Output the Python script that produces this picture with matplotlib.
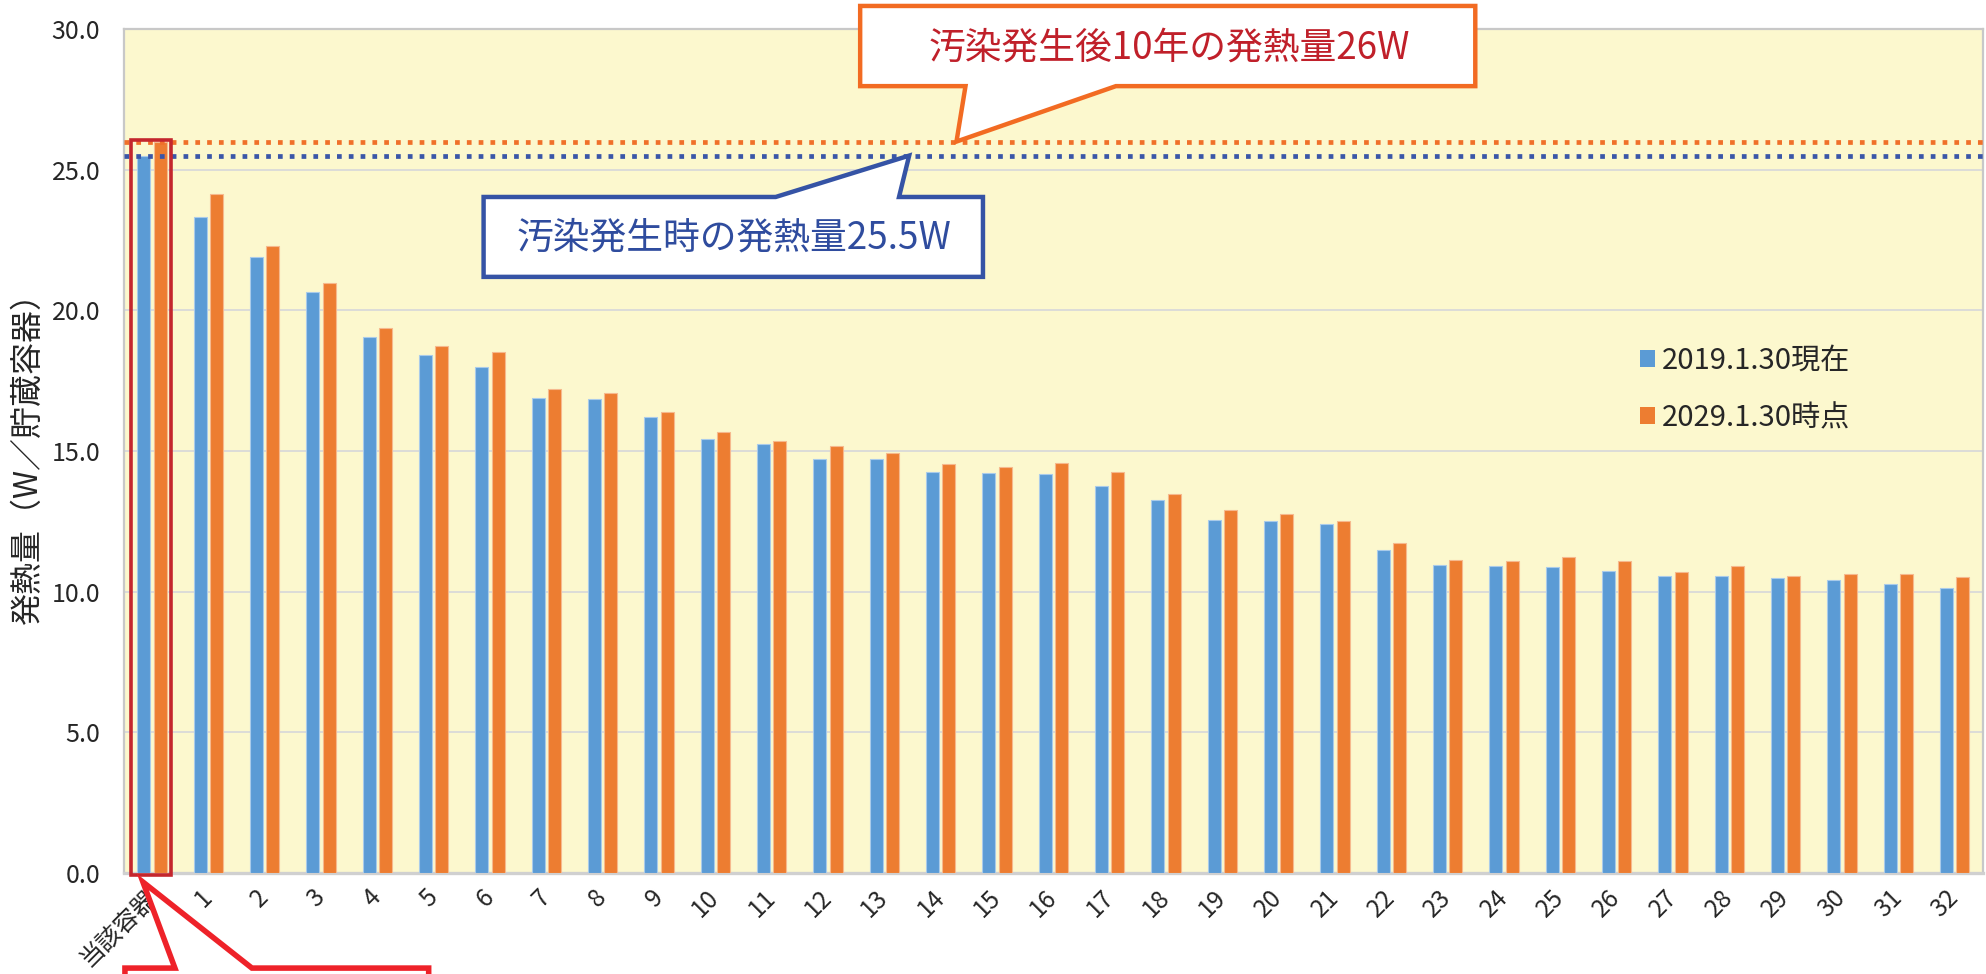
import matplotlib
matplotlib.use('Agg')
import matplotlib.pyplot as plt
from matplotlib.patches import Polygon, Rectangle, Patch
import numpy as np

plt.rcParams['font.family'] = ['Noto Sans CJK JP', 'DejaVu Sans']

# 貯蔵容器ごとの発熱量 (W/貯蔵容器)
containers = ['当該容器'] + [str(n) for n in range(1, 33)]
heat_2019 = [25.5, 23.33, 21.90, 20.67, 19.05, 18.41, 18.00, 16.87, 16.85, 16.21,
             15.44, 15.24, 14.73, 14.71, 14.24, 14.21, 14.18, 13.77, 13.25, 12.55,
             12.52, 12.41, 11.47, 10.95, 10.90, 10.88, 10.72, 10.56, 10.56, 10.47,
             10.40, 10.27, 10.13]
heat_2029 = [26.0, 24.14, 22.27, 20.96, 19.36, 18.73, 18.53, 17.19, 17.07, 16.39,
             15.69, 15.37, 15.17, 14.94, 14.53, 14.43, 14.56, 14.25, 13.46, 12.89,
             12.75, 12.50, 11.72, 11.13, 11.08, 11.25, 11.08, 10.69, 10.90, 10.56,
             10.63, 10.62, 10.51]
series_names = ['2019.1.30現在', '2029.1.30時点']
y_ticks = [0, 5, 10, 15, 20, 25, 30]

# 汚染発生時 / 汚染発生後10年 の発熱量
heat_at_event = 25.5
heat_after_10y = 26.0

BLUE = '#5B9BD5'
ORANGE = '#ED7D31'
TXT = '#262626'

fig = plt.figure(figsize=(19.86, 9.74), dpi=100)
ax = fig.add_axes([0.0624, 0.1037, 0.936, 0.8665])
ax.set_facecolor('#FCF8CE')

x = np.arange(len(containers))
w = 0.23
ax.bar(x - 0.145, heat_2019, w, color=BLUE, edgecolor='#A9CBEA', linewidth=0.8, zorder=3)
ax.bar(x + 0.145, heat_2029, w, color=ORANGE, edgecolor='#F6B98E', linewidth=0.8, zorder=3)

ax.set_xlim(-0.5, len(containers) - 0.5)
ax.set_ylim(0, 30)
ax.set_yticks(y_ticks)
ax.set_yticklabels([f'{v:.1f}' for v in y_ticks], fontsize=18, color=TXT)
ax.set_xticks(x)
ax.set_xticklabels(containers, fontsize=17.5, color=TXT, rotation=45,
                   ha='right', va='center', rotation_mode='anchor')
ax.tick_params(axis='both', length=0)
ax.tick_params(axis='y', pad=17)
ax.tick_params(axis='x', pad=15)
ax.grid(axis='y', color='#D9D9D9', linewidth=1.3, zorder=0)
ax.set_axisbelow(True)
for side, sp in ax.spines.items():
    sp.set_color('#C8C8C8')
    sp.set_linewidth(1.6)
ax.spines['bottom'].set_color('#D0D0D0')
ax.spines['bottom'].set_linewidth(2.4)

ax.set_ylabel('発熱量（W／貯蔵容器）', fontsize=23, color=TXT, va='center')
ax.yaxis.set_label_coords(-0.0516, 0.5)

# 基準線（点線）
ax.axhline(heat_after_10y, color='#F0702A', linewidth=3.4,
           linestyle=(0, (1, 1.5)), dash_capstyle='butt', zorder=4)
ax.axhline(heat_at_event, color='#3A56A8', linewidth=3.4,
           linestyle=(0, (1, 1.5)), dash_capstyle='butt', zorder=4)

# 当該容器の枠
ax.add_patch(Rectangle((-0.381, -0.07), 0.71, 26.12, fill=False,
                       edgecolor='#C4262D', linewidth=2.6, zorder=5, clip_on=False))

# 吹き出し（上：汚染発生後10年）
x0, x1, yb, yt = 12.57, 23.49, 27.97, 30.82
pts = [(x0, yt), (x1, yt), (x1, yb), (17.11, yb), (14.28, heat_after_10y),
       (14.44, yb), (x0, yb)]
ax.add_patch(Polygon(pts, closed=True, facecolor='white', edgecolor='#F26B22',
                     linewidth=3.2, joinstyle='miter', zorder=6, clip_on=False))
ax.text(18.05, 29.33, '汚染発生後10年の発熱量26W', fontsize=26.5, color='#C0202A',
        ha='center', va='center', zorder=7)

# 吹き出し（下：汚染発生時）
x0, x1, yb, yt = 5.885, 14.75, 21.19, 24.03
pts = [(x0, yt), (11.07, yt), (13.44, heat_at_event), (13.26, yt), (x1, yt),
       (x1, yb), (x0, yb)]
ax.add_patch(Polygon(pts, closed=True, facecolor='white', edgecolor='#3553A5',
                     linewidth=3.2, joinstyle='miter', zorder=6, clip_on=False))
ax.text(10.33, 22.57, '汚染発生時の発熱量25.5W', fontsize=26.5, color='#2F4C9E',
        ha='center', va='center', zorder=7)

# 吹き出し（当該容器、下端）
pts = [(-0.482, -3.38), (0.405, -3.38), (-0.163, -0.32), (1.772, -3.38),
       (4.91, -3.38), (4.91, -8.0), (-0.482, -8.0)]
ax.add_patch(Polygon(pts, closed=True, facecolor='white', edgecolor='#EE2229',
                     linewidth=4, joinstyle='miter', zorder=6, clip_on=False))

handles = [Patch(facecolor=BLUE, edgecolor='none'), Patch(facecolor=ORANGE, edgecolor='none')]
leg = ax.legend(handles, series_names, loc='upper left', bbox_to_anchor=(0.8155, 0.625),
                frameon=False, fontsize=21, handlelength=0.52, handleheight=0.52,
                handletextpad=0.25, labelspacing=0.95, borderpad=0, borderaxespad=0)
for t in leg.get_texts():
    t.set_color(TXT)

fig.savefig('out.png', dpi=100)
